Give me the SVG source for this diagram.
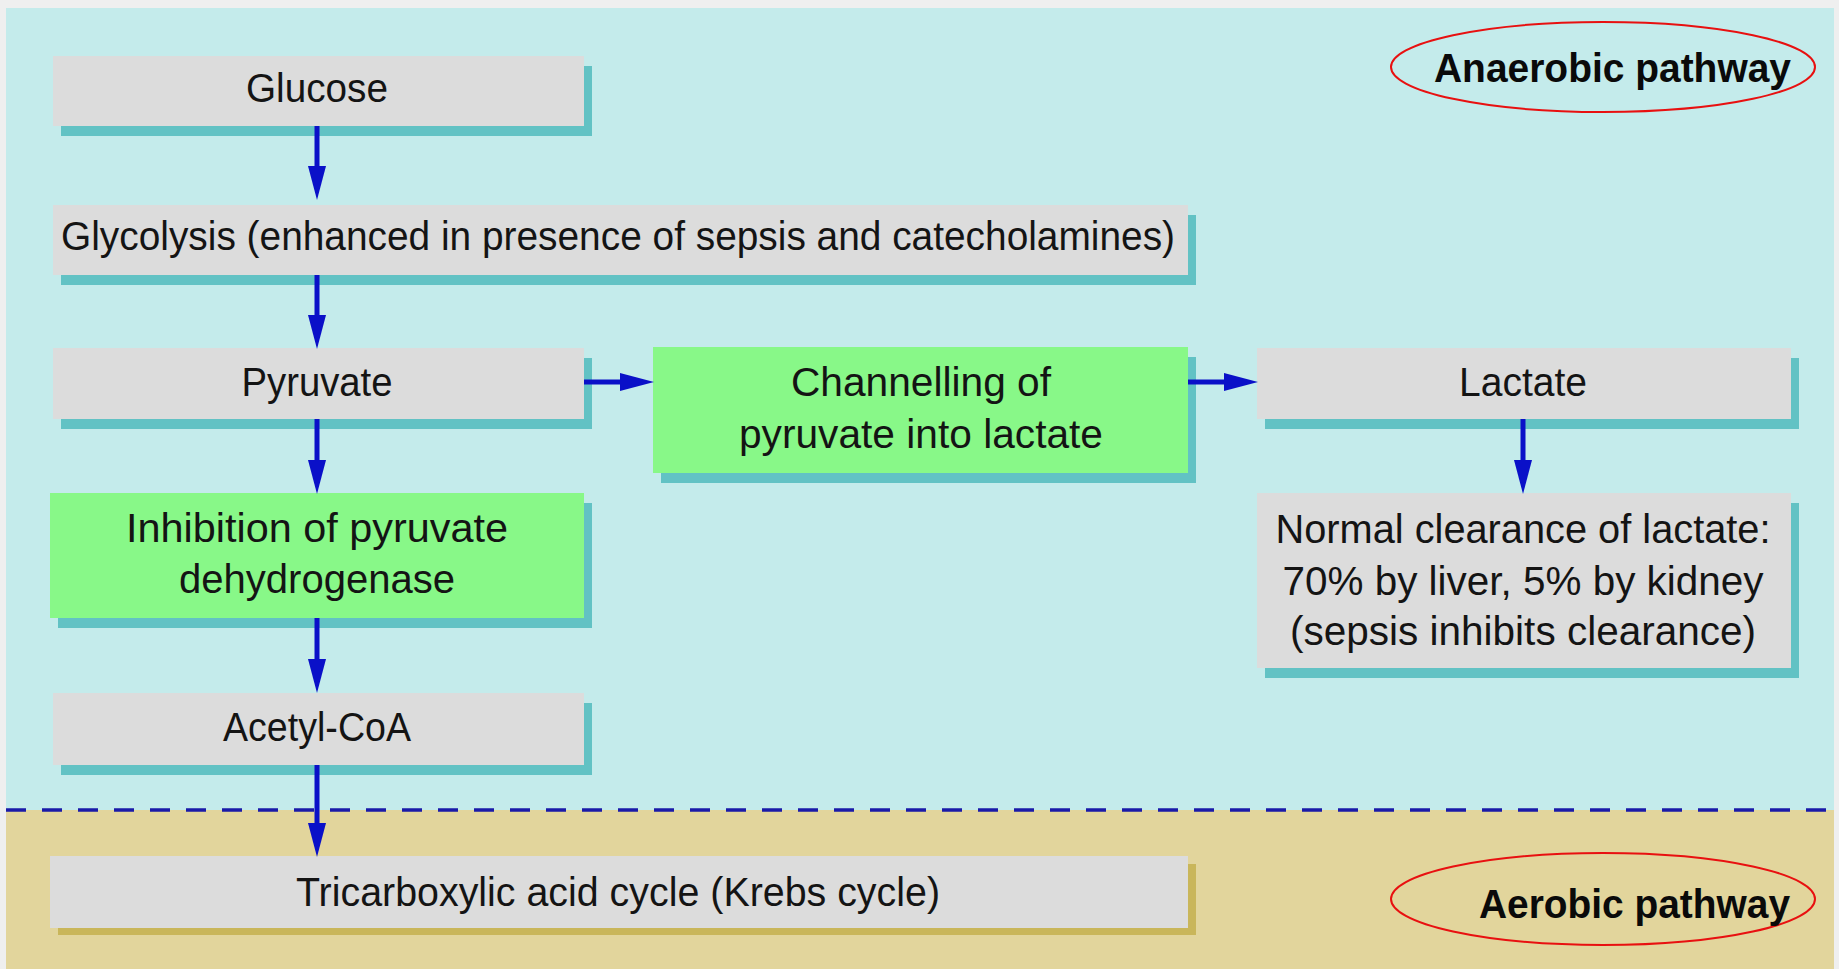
<svg xmlns="http://www.w3.org/2000/svg" width="1839" height="969" viewBox="0 0 1839 969">
<defs>
<style>
.box{fill:#dcdcdc}
.grn{fill:#88f888}
.sh{fill:#62c2c4}
.shg{fill:#c9b65a}
.t{font-family:"Liberation Sans Narrow","Liberation Sans",Arial,sans-serif;font-size:40px;fill:#141414;text-anchor:middle}
.b{font-family:"Liberation Sans Narrow","Liberation Sans",Arial,sans-serif;font-size:40px;font-weight:bold;fill:#0a0a0a}
.c{stroke:#0a10c8;stroke-width:5;fill:none}
.ell{fill:none;stroke:#e81010;stroke-width:2}
</style>
<marker id="ah" markerUnits="userSpaceOnUse" markerWidth="34" markerHeight="20" refX="0" refY="10" orient="auto" viewBox="0 0 34 20">
<path d="M0,1 L34,10 L0,19 Z" fill="#0a10c8"/>
</marker>
</defs>
<rect x="0" y="0" width="1839" height="969" fill="#efefef"/>
<rect x="6" y="8" width="1828" height="802" fill="#c4ebeb"/>
<rect x="6" y="810" width="1828" height="159" fill="#e2d59c"/>
<line x1="6" y1="810" x2="1834" y2="810" stroke="#1a1aa8" stroke-width="3.5" stroke-dasharray="20 16"/>

<g id="glucose">
<rect class="sh" x="61" y="66" width="531" height="70"/>
<rect class="box" x="53" y="56" width="531" height="70"/>
<text class="t" x="317" y="102" textLength="142" lengthAdjust="spacingAndGlyphs">Glucose</text>
</g>
<g id="glycolysis">
<rect class="sh" x="61" y="215" width="1135" height="70"/>
<rect class="box" x="53" y="205" width="1135" height="70"/>
<text class="t" x="618" y="250" textLength="1114" lengthAdjust="spacingAndGlyphs">Glycolysis (enhanced in presence of sepsis and catecholamines)</text>
</g>
<g id="pyruvate">
<rect class="sh" x="61" y="358" width="531" height="71"/>
<rect class="box" x="53" y="348" width="531" height="71"/>
<text class="t" x="317" y="396" textLength="151" lengthAdjust="spacingAndGlyphs">Pyruvate</text>
</g>
<g id="channelling">
<rect class="sh" x="661" y="357" width="535" height="126"/>
<rect class="grn" x="653" y="347" width="535" height="126"/>
<text class="t" x="921" y="396" textLength="260" lengthAdjust="spacingAndGlyphs">Channelling of</text>
<text class="t" x="921" y="448" textLength="364" lengthAdjust="spacingAndGlyphs">pyruvate into lactate</text>
</g>
<g id="lactate">
<rect class="sh" x="1265" y="358" width="534" height="71"/>
<rect class="box" x="1257" y="348" width="534" height="71"/>
<text class="t" x="1523" y="396" textLength="128" lengthAdjust="spacingAndGlyphs">Lactate</text>
</g>
<g id="clearance">
<rect class="sh" x="1265" y="503" width="534" height="175"/>
<rect class="box" x="1257" y="493" width="534" height="175"/>
<text class="t" x="1523" y="543" textLength="495" lengthAdjust="spacingAndGlyphs">Normal clearance of lactate:</text>
<text class="t" x="1523" y="595" textLength="481" lengthAdjust="spacingAndGlyphs">70% by liver, 5% by kidney</text>
<text class="t" x="1523" y="645" textLength="466" lengthAdjust="spacingAndGlyphs">(sepsis inhibits clearance)</text>
</g>
<g id="inhibition">
<rect class="sh" x="58" y="503" width="534" height="125"/>
<rect class="grn" x="50" y="493" width="534" height="125"/>
<text class="t" x="317" y="542" textLength="382" lengthAdjust="spacingAndGlyphs">Inhibition of pyruvate</text>
<text class="t" x="317" y="593" textLength="276" lengthAdjust="spacingAndGlyphs">dehydrogenase</text>
</g>
<g id="acetylcoa">
<rect class="sh" x="61" y="703" width="531" height="72"/>
<rect class="box" x="53" y="693" width="531" height="72"/>
<text class="t" x="317" y="741" textLength="188" lengthAdjust="spacingAndGlyphs">Acetyl-CoA</text>
</g>
<g id="tca">
<rect class="shg" x="58" y="864" width="1138" height="71"/>
<rect class="box" x="50" y="856" width="1138" height="72"/>
<text class="t" x="618" y="906" textLength="644" lengthAdjust="spacingAndGlyphs">Tricarboxylic acid cycle (Krebs cycle)</text>
</g>
<g id="anaerobic">
<ellipse class="ell" cx="1603" cy="67" rx="212" ry="45"/>
<text class="b" x="1434" y="82" textLength="357" lengthAdjust="spacingAndGlyphs">Anaerobic pathway</text>
</g>
<g id="aerobic">
<ellipse class="ell" cx="1603" cy="899" rx="212" ry="46"/>
<text class="b" x="1479" y="918" textLength="311" lengthAdjust="spacingAndGlyphs">Aerobic pathway</text>
</g>

<g id="connectors">
<path class="c" d="M317,126 V166" marker-end="url(#ah)"/>
<path class="c" d="M317,275 V315" marker-end="url(#ah)"/>
<path class="c" d="M317,419 V460" marker-end="url(#ah)"/>
<path class="c" d="M317,618 V659" marker-end="url(#ah)"/>
<path class="c" d="M317,765 V823" marker-end="url(#ah)"/>
<path class="c" d="M584,382 H620" marker-end="url(#ah)"/>
<path class="c" d="M1188,382 H1224" marker-end="url(#ah)"/>
<path class="c" d="M1523,419 V460" marker-end="url(#ah)"/>
</g>
</svg>
